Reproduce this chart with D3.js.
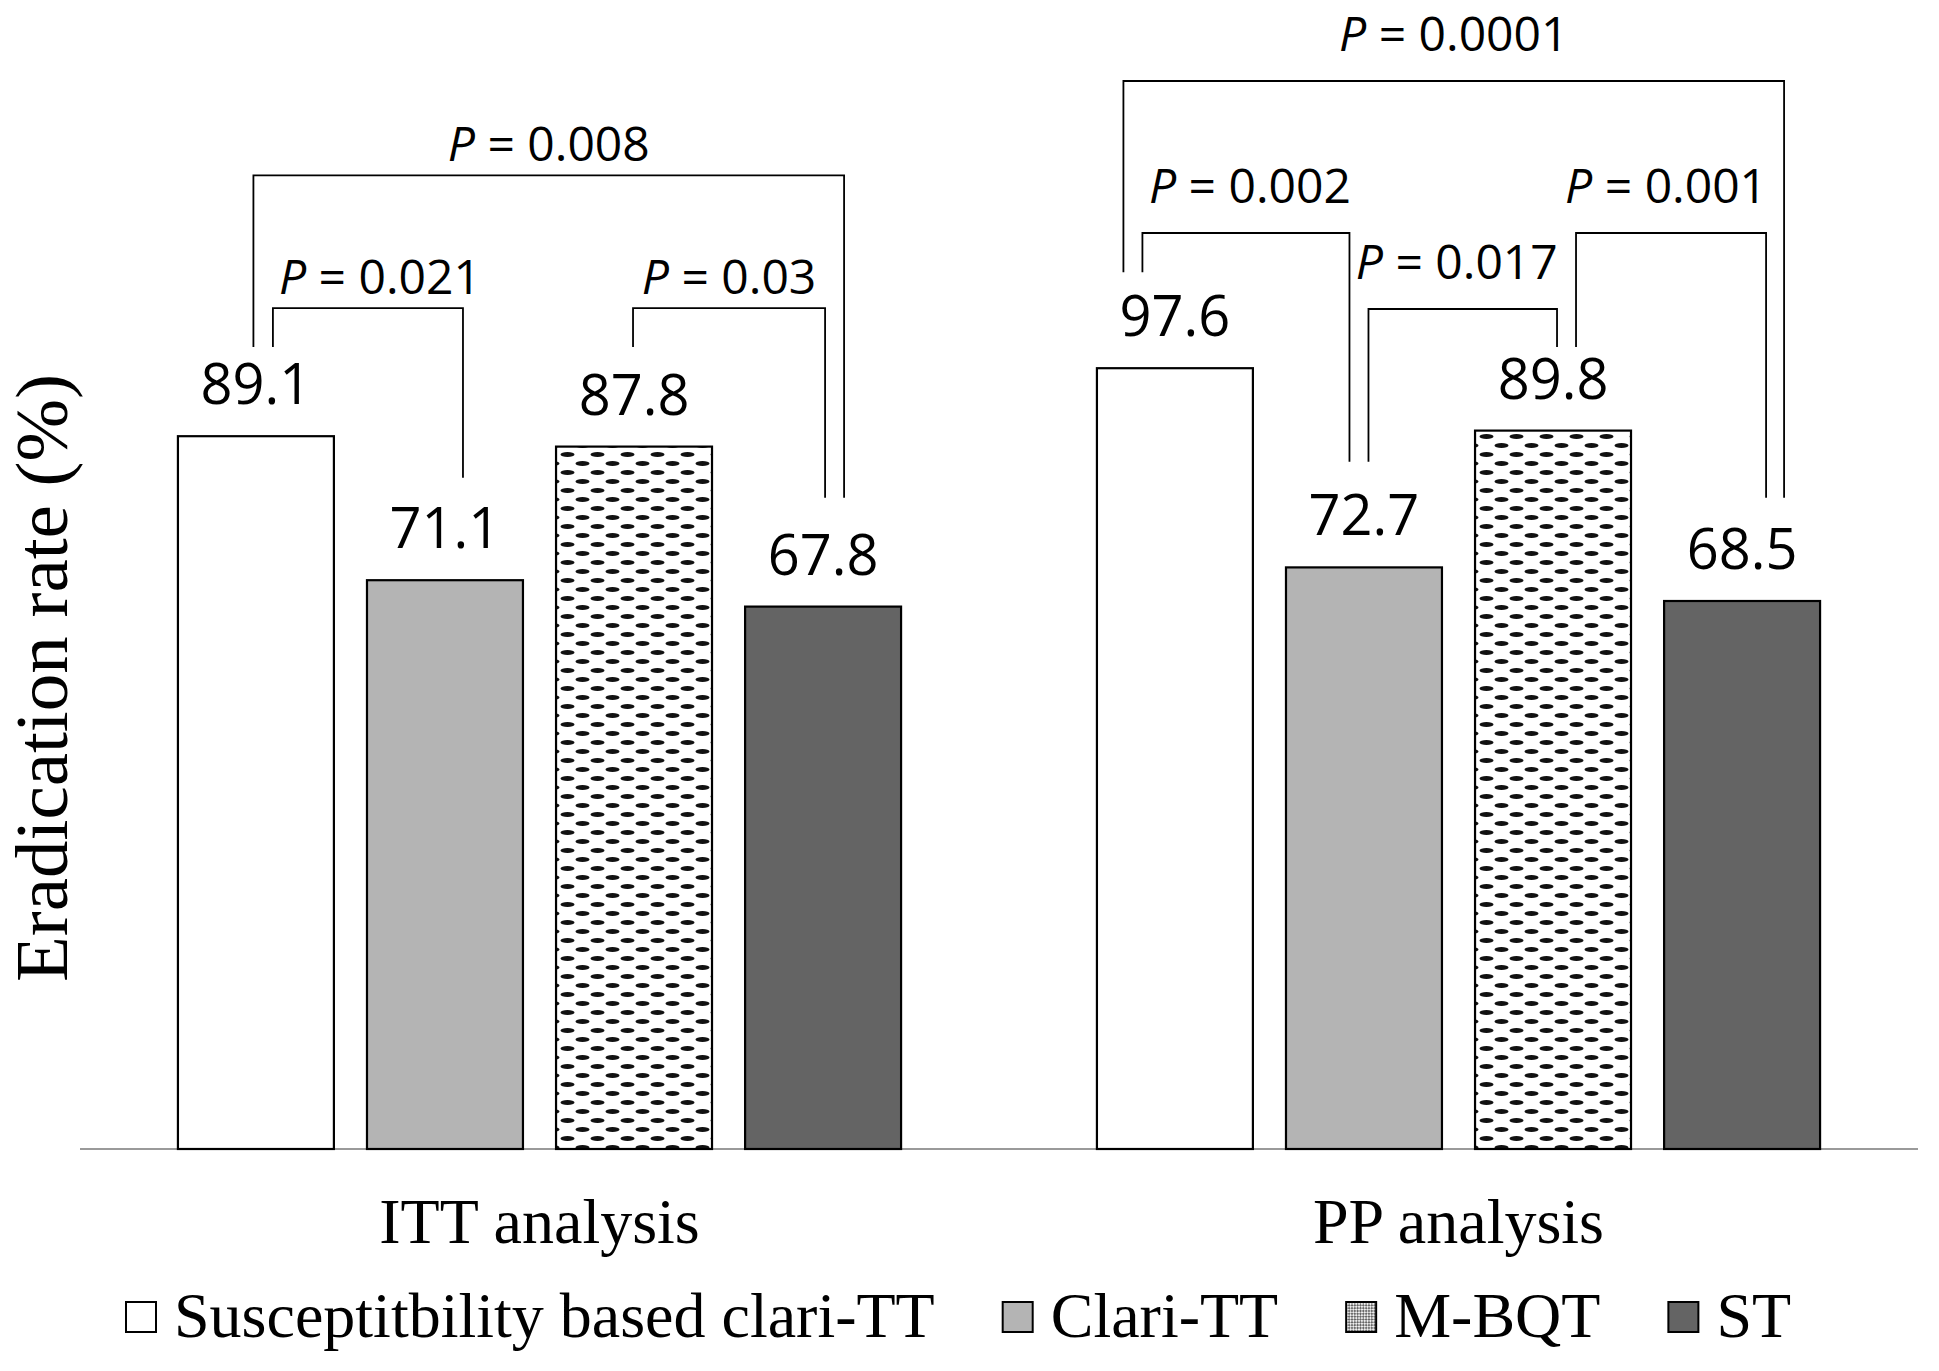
<!DOCTYPE html>
<html>
<head>
  <meta charset="UTF-8">
  <title>Eradication rate</title>
  <style>
    body { margin: 0; background: #fff; }
    svg { display: block; }
    .serif { font-family: "Liberation Serif", "Times New Roman", serif; fill: #000; }
    .sans { font-family: "Open Sans", "Noto Sans", sans-serif; fill: #000; }
  </style>
</head>
<body>
<svg></svg>
<script src="https://d3js.org/d3.v7.min.js"></script>
<script>

// chart values
const groups = ["ITT analysis", "PP analysis"];
const treatments = ["Susceptitbility based clari-TT", "Clari-TT", "M-BQT", "ST"];
const ittRates = [89.1, 71.1, 87.8, 67.8];
const ppRates = [97.6, 72.7, 89.8, 68.5];

// significance brackets: bar indexes, p value, level of the bar top and of each leg end (in %)
const ittBrackets = [
  { from: 0, to: 3, p: "0.008", level: 121.7, endFrom: 100.25, endTo: 81.4 },
  { from: 0, to: 1, p: "0.021", level: 105.1, endFrom: 100.25, endTo: 83.9 },
  { from: 2, to: 3, p: "0.03",  level: 105.1, endFrom: 100.25, endTo: 81.4 }
];
const ppBrackets = [
  { from: 0, to: 3, p: "0.0001", level: 133.5, endFrom: 109.6, endTo: 81.4 },
  { from: 0, to: 1, p: "0.002",  level: 114.5, endFrom: 109.6, endTo: 85.9 },
  { from: 1, to: 2, p: "0.017",  level: 105.0, endFrom: 85.9,  endTo: 100.25 },
  { from: 2, to: 3, p: "0.001",  level: 114.5, endFrom: 100.25, endTo: 81.4 }
];

let width = 1939, height = 1371;

let svg = d3.select("svg")
    .attr("width", width)
    .attr("height", height)
    .attr("viewBox", "0 0 " + width + " " + height);

// patterns
let defs = svg.append("defs");
let dash = defs.append("pattern")
    .attr("id", "dash")
    .attr("patternUnits", "userSpaceOnUse")
    .attr("width", 30).attr("height", 18);
dash.append("rect").attr("width", 30).attr("height", 18).attr("fill", "#fff");
dash.append("ellipse").attr("cx", 7.5).attr("cy", 4.5).attr("rx", 7).attr("ry", 2.6).attr("fill", "#111");
dash.append("ellipse").attr("cx", 22.5).attr("cy", 13.5).attr("rx", 7).attr("ry", 2.6).attr("fill", "#111");

let hatch = defs.append("pattern")
    .attr("id", "hatch")
    .attr("patternUnits", "userSpaceOnUse")
    .attr("width", 4).attr("height", 4)
    .attr("patternTransform", "rotate(45)");
hatch.append("rect").attr("width", 4).attr("height", 4).attr("fill", "#eee");
hatch.append("rect").attr("width", 2).attr("height", 2).attr("fill", "#666");
hatch.append("rect").attr("x", 2).attr("y", 2).attr("width", 2).attr("height", 2).attr("fill", "#666");

const fills = ["#ffffff", "#b4b4b4", "url(#dash)", "#646464"];
const legendFills = ["#ffffff", "#b4b4b4", "url(#hatch)", "#646464"];

// scales
let x0 = d3.scaleBand().domain(groups).range([80, 1918]).padding(0);
let x1 = d3.scaleBand().domain(d3.range(treatments.length))
    .range([0, x0.bandwidth()])
    .paddingInner(0.175).paddingOuter(0.518);
let y = d3.scaleLinear().domain([0, 100]).range([1149, 349]);

let series = [ittRates, ppRates];
let brackets = [ittBrackets, ppBrackets];

// baseline
svg.append("line")
    .attr("x1", x0.range()[0]).attr("x2", x0.range()[1])
    .attr("y1", y(0)).attr("y2", y(0))
    .attr("stroke", "#9a9a9a").attr("stroke-width", 2);

// bars + value labels
groups.forEach((g, gi) => {
  let gEl = svg.append("g").attr("transform", "translate(" + x0(g) + ",0)");

  gEl.selectAll("rect")
    .data(series[gi])
    .enter()
    .append("rect")
      .attr("x", (d, i) => x1(i))
      .attr("y", d => y(d))
      .attr("width", x1.bandwidth())
      .attr("height", d => y(0) - y(d))
      .attr("fill", (d, i) => fills[i])
      .attr("stroke", "#000")
      .attr("stroke-width", 2.2);

  gEl.selectAll("text.val")
    .data(series[gi])
    .enter()
    .append("text")
      .attr("class", "val sans")
      .attr("x", (d, i) => x1(i) + x1.bandwidth() / 2)
      .attr("y", d => y(d) - 32)
      .attr("text-anchor", "middle")
      .style("font-size", "56px")
      .text(d => d.toFixed(1));
});

// bracket leg offsets from the bar centre (px) and label shifts
const legOffsets = [
  [[-2.5, 21], [17, 18], [-1, 2]],
  [[-51.5, 42], [-32.5, -14.5], [4.5, 4], [23, 24]]
];
const labelShift = [[0, 12, 0], [0, 4, -6, -5]];
const labelGap = [14, 30];

groups.forEach((g, gi) => {
  let cx = i => x0(g) + x1(i) + x1.bandwidth() / 2;
  brackets[gi].forEach((b, bi) => {
    let xa = cx(b.from) + legOffsets[gi][bi][0];
    let xb = cx(b.to) + legOffsets[gi][bi][1];
    let path = d3.path();
    path.moveTo(xa, y(b.endFrom));
    path.lineTo(xa, y(b.level));
    path.lineTo(xb, y(b.level));
    path.lineTo(xb, y(b.endTo));
    svg.append("path")
      .attr("d", path.toString())
      .attr("fill", "none")
      .attr("stroke", "#000")
      .attr("stroke-width", 1.8);

    let t = svg.append("text")
      .attr("class", "sans")
      .attr("x", (xa + xb) / 2 + labelShift[gi][bi])
      .attr("y", y(b.level) - labelGap[gi])
      .attr("text-anchor", "middle")
      .style("font-size", "48px");
    t.append("tspan").style("font-style", "italic").text("P");
    t.append("tspan").text(" = " + b.p);
  });
});

// category labels
svg.selectAll("text.cat")
  .data(groups)
  .enter()
  .append("text")
    .attr("class", "cat serif")
    .attr("x", d => x0(d) + x0.bandwidth() / 2)
    .attr("y", 1243)
    .attr("text-anchor", "middle")
    .style("font-size", "64px")
    .text(d => d);

// y axis title
svg.append("text")
    .attr("class", "serif")
    .attr("transform", "translate(67,678) rotate(-90)")
    .attr("text-anchor", "middle")
    .style("font-size", "75px")
    .text("Eradication rate (%)");

// legend
let legend = svg.append("g").attr("class", "legend");
let lx = 126;
treatments.forEach((name, i) => {
  legend.append("rect")
    .attr("x", lx).attr("y", 1302)
    .attr("width", 30).attr("height", 30)
    .attr("fill", legendFills[i])
    .attr("stroke", "#000")
    .attr("stroke-width", 2);
  let t = legend.append("text")
    .attr("class", "serif")
    .attr("x", lx + 48)
    .attr("y", 1337)
    .style("font-size", "64px")
    .text(name);
  lx += 48 + t.node().getComputedTextLength() + 68;
});

</script>
</body>
</html>
